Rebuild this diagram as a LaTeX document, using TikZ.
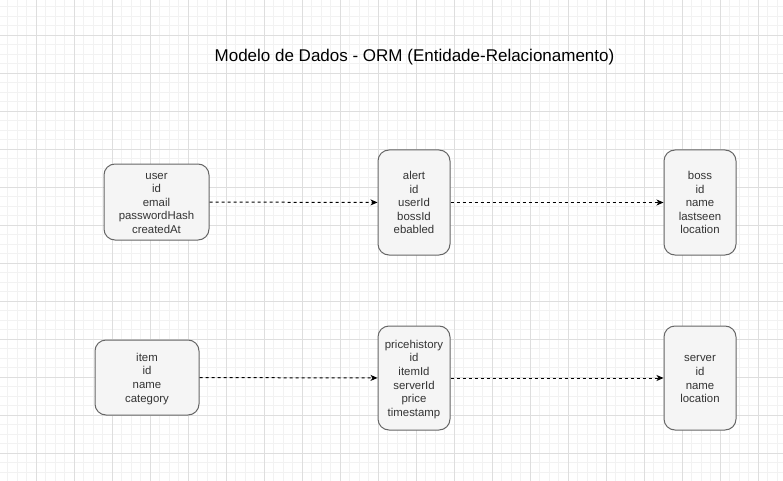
\documentclass[tikz,border=0pt]{standalone}
\usepackage{fontspec}
\setmainfont{Liberation Sans}
\usepackage{tikz}
\usetikzlibrary{positioning, arrows.meta}
\definecolor{boxfill}{HTML}{F5F5F5}
\definecolor{boxline}{HTML}{666666}
\definecolor{boxtext}{HTML}{333333}
\definecolor{gridminor}{HTML}{F2F2F2}
\definecolor{gridmajor}{HTML}{DEDEDE}
\tikzset{
    x=1pt, y=-1pt, % one unit is one pixel of the drawing, y grows downwards
    >={Stealth[length=7pt, width=6pt, inset=2pt]}, % arrow tip of the links
    }

\begin{document}
\begin{tikzpicture}[entity/.style={rectangle, rounded corners=11pt, draw=boxline, fill=boxfill, line width=1pt, text=boxtext, align=center, text depth=0pt, font=\fontsize{11.4}{13.6}\selectfont}, link/.style={->, dash pattern=on 3pt off 3pt, line width=1pt, black}]
\useasboundingbox (0,0) rectangle (783,481);
% background grid
\begin{scope}
\clip (0,0) rectangle (783,481);
\draw[gridminor, line width=1pt, shift={(-1.7pt,2.7pt)}, step=9.5pt] (-40,520) grid (820,-40);
\draw[gridmajor, line width=1pt, shift={(-1.7pt,2.7pt)}, step=38pt] (-40,520) grid (820,-40);
\end{scope}

\node[font=\fontsize{17}{20}\selectfont, anchor=base] (title) at (414.5,61.7) {Modelo de Dados - ORM (Entidade-Relacionamento)};

\node[entity, minimum width=105pt, minimum height=76pt, text height=62.8pt] (user) at (156.5,202) {user\\id\\email\\passwordHash\\createdAt};
\node[entity, minimum width=72pt, minimum height=105pt, text height=62.8pt] (alert) at (414,202.5) {alert\\id\\userId\\bossId\\ebabled};
\node[entity, minimum width=72pt, minimum height=105pt, text height=62.8pt, right of=alert, node distance=286pt] (boss) {boss\\id\\name\\lastseen\\location};
\node[entity, minimum width=104pt, minimum height=75pt, text height=49.2pt] (item) at (147,377.5) {item\\id\\name\\category};
\node[entity, minimum width=72pt, minimum height=104pt, text height=76.4pt, below of=alert, node distance=175.5pt] (pricehistory) {pricehistory\\id\\itemId\\serverId\\price\\timestamp};
\node[entity, minimum width=72pt, minimum height=104pt, text height=49.2pt, right of=pricehistory, node distance=286pt] (server) {server\\id\\name\\location};

\draw (user) edge[link] (alert)
(alert) edge[link] (boss)
(item) edge[link] (pricehistory)
(pricehistory) edge[link] (server);
\end{tikzpicture}
\end{document}
